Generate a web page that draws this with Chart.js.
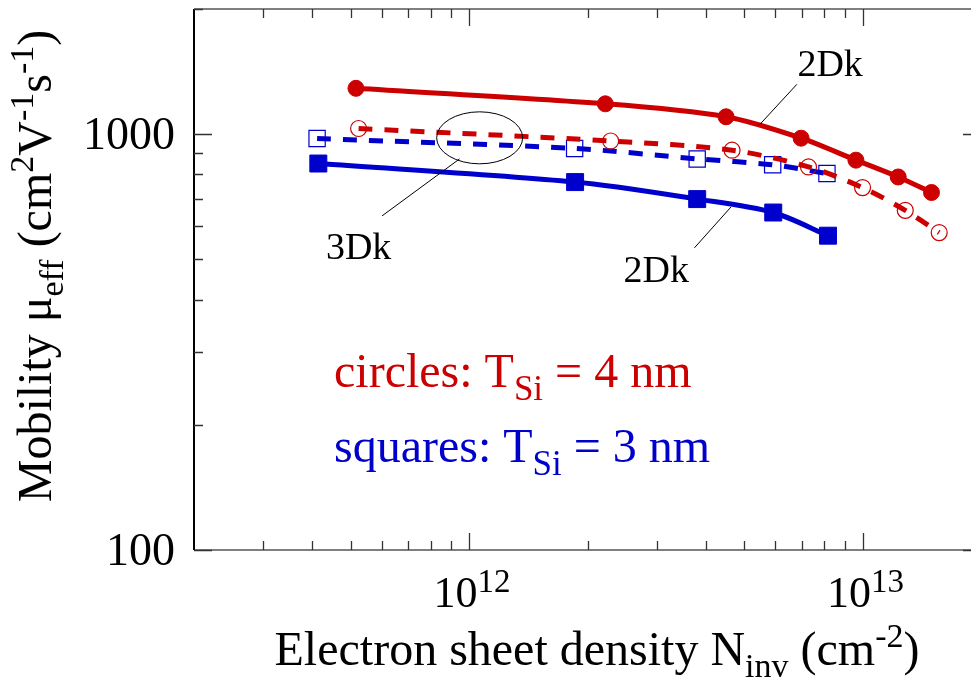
<!DOCTYPE html>
<html>
<head>
<meta charset="utf-8">
<script src="https://cdn.jsdelivr.net/npm/chart.js@4/dist/chart.umd.min.js"></script>
<style>
  html, body { margin: 0; padding: 0; background: #fff; overflow: hidden; }
  #chart { display: block; }
</style>
</head>
<body>
<canvas id="chart" width="990" height="686"></canvas>
<script>
// ---------------- Data ----------------
// circles: T_Si = 4 nm
const nCircles2D = [5.16e11, 2.22e12, 4.50e12, 6.98e12, 9.62e12, 1.232e13, 1.497e13];
const muCircles2D = [1289, 1183, 1101, 978, 866, 789, 724];
const nCircles3D = [5.24e11, 2.29e12, 4.66e12, 7.29e12, 1.0e13, 1.284e13, 1.566e13];
const muCircles3D = [1032, 963, 915, 834, 744, 656, 580];
// squares: T_Si = 3 nm
const nSquares3D = [4.11e11, 1.855e12, 3.80e12, 5.91e12, 8.12e12];
const muSquares3D = [976, 924, 872, 844, 804];
const nSquares2D = [4.14e11, 1.86e12, 3.80e12, 5.93e12, 8.17e12];
const muSquares2D = [850, 767, 698, 648, 570];

// axis ranges + ticks
const xRange = [2e11, 2e13];
const yRange = [100, 2000];
const xMajorTicks = [1e12, 1e13];
const xMinorTicks = [3e11, 4e11, 5e11, 6e11, 7e11, 8e11, 9e11, 2e12, 3e12, 4e12, 5e12, 6e12, 7e12, 8e12, 9e12];
const yMajorTicks = [100, 1000];
const yMinorTicks = [200, 300, 400, 500, 600, 700, 800, 900, 2000];
const xTickExponents = ["12", "13"];

const RED = "#cc0000";
const BLUE = "#0000cc";
const FONT = "'Liberation Serif', 'Times New Roman', serif";

function pts(xs, ys) {
  return xs.map((x, i) => ({ x, y: ys[i] }));
}

// ---------------- Helpers ----------------
// text made of parts [{t, size, dy}], x anchor by align, baseline y
function richWidth(ctx, parts) {
  let w = 0;
  parts.forEach(p => {
    ctx.font = `${p.size}px ${FONT}`;
    w += ctx.measureText(p.t).width;
  });
  return w;
}

function drawRich(ctx, parts, x, y, align) {
  const w = richWidth(ctx, parts);
  let cx = x;
  if (align === "center") cx = x - w / 2;
  if (align === "right") cx = x - w;
  ctx.textAlign = "left";
  ctx.textBaseline = "alphabetic";
  parts.forEach(p => {
    ctx.font = `${p.size}px ${FONT}`;
    ctx.fillText(p.t, cx, y + (p.dy || 0));
    cx += ctx.measureText(p.t).width;
  });
}

// ---------------- Frame, ticks, labels ----------------
const framePlugin = {
  id: "frame",
  beforeDatasetsDraw(chart) {
    const { ctx, chartArea: a, scales } = chart;
    const xs = scales.x, ys = scales.y;
    ctx.save();

    // axes box
    ctx.strokeStyle = "#555";
    ctx.lineWidth = 1.5;
    ctx.beginPath();
    ctx.moveTo(a.left, a.top); ctx.lineTo(a.right, a.top);
    ctx.moveTo(a.left, a.bottom); ctx.lineTo(a.right, a.bottom);
    ctx.moveTo(a.right, a.top); ctx.lineTo(a.right, a.bottom);
    ctx.stroke();
    ctx.strokeStyle = "#000";
    ctx.lineWidth = 2;
    ctx.beginPath();
    ctx.moveTo(a.left, a.top); ctx.lineTo(a.left, a.bottom);
    ctx.stroke();

    // inward ticks
    ctx.strokeStyle = "#333";
    ctx.lineWidth = 1.3;
    ctx.beginPath();
    const xt = (v, len) => {
      const p = Math.round(xs.getPixelForValue(v)) + 0.5;
      ctx.moveTo(p, a.bottom); ctx.lineTo(p, a.bottom - len);
      ctx.moveTo(p, a.top); ctx.lineTo(p, a.top + len);
    };
    const yt = (v, len) => {
      const p = Math.round(ys.getPixelForValue(v)) + 0.5;
      ctx.moveTo(a.left, p); ctx.lineTo(a.left + len, p);
      ctx.moveTo(a.right, p); ctx.lineTo(a.right - len, p);
    };
    xMajorTicks.forEach(v => xt(v, 17));
    xMinorTicks.forEach(v => xt(v, 9));
    yMajorTicks.forEach(v => yt(v, 18));
    yMinorTicks.forEach(v => yt(v, 9));
    ctx.stroke();

    // tick labels
    ctx.fillStyle = "#000";
    yMajorTicks.forEach(v => {
      const p = ys.getPixelForValue(v);
      drawRich(ctx, [{ t: String(v), size: 46 }], 175, p + 15, "right");
    });
    xMajorTicks.forEach((v, i) => {
      const p = xs.getPixelForValue(v);
      drawRich(ctx, [{ t: "10", size: 44 }, { t: xTickExponents[i], size: 33, dy: -15 }], p + 3, 607, "center");
    });

    // axis titles
    drawRich(ctx, [
      { t: "Electron sheet density N", size: 48 },
      { t: "inv", size: 34, dy: 12 },
      { t: " (cm", size: 48 },
      { t: "-2", size: 34, dy: -18 },
      { t: ")", size: 48 },
    ], 597, 665, "center");

    ctx.save();
    ctx.translate(51, 266);
    ctx.rotate(-Math.PI / 2);
    drawRich(ctx, [
      { t: "Mobility \u03bc", size: 48 },
      { t: "eff", size: 34, dy: 12 },
      { t: " (cm", size: 48 },
      { t: "2", size: 34, dy: -18 },
      { t: "V", size: 48 },
      { t: "-1", size: 34, dy: -18 },
      { t: "s", size: 48 },
      { t: "-1", size: 34, dy: -18 },
      { t: ")", size: 48 },
    ], 0, 0, "center");
    ctx.restore();

    ctx.restore();
  },
  afterDatasetsDraw(chart) {
    const { ctx, scales } = chart;
    const X = v => scales.x.getPixelForValue(v);
    const Y = v => scales.y.getPixelForValue(v);
    ctx.save();

    // 3Dk ellipse + leaders
    ctx.strokeStyle = "#000";
    ctx.lineWidth = 1;
    ctx.beginPath();
    ctx.ellipse(X(1.064e12), Y(980), 43, 26, 0, 0, Math.PI * 2);
    ctx.stroke();
    const leader = (x1, y1, x2, y2) => {
      ctx.beginPath();
      ctx.moveTo(X(x1), Y(y1));
      ctx.lineTo(X(x2), Y(y2));
      ctx.stroke();
    };
    leader(9.46e11, 872, 6.01e11, 636);
    leader(6.81e12, 1318, 5.47e12, 1053);
    leader(4.63e12, 668, 3.74e12, 533);

    ctx.fillStyle = "#000";
    drawRich(ctx, [{ t: "3Dk", size: 38 }], X(5.24e11), Y(500), "center");
    drawRich(ctx, [{ t: "2Dk", size: 38 }], X(6.83e12), Y(1380), "left");
    drawRich(ctx, [{ t: "2Dk", size: 38 }], X(2.47e12), Y(440), "left");

    // legend text
    ctx.fillStyle = RED;
    drawRich(ctx, [
      { t: "circles: T", size: 48 },
      { t: "Si", size: 35, dy: 13 },
      { t: " = 4 nm", size: 48 },
    ], 334, 387, "left");
    ctx.fillStyle = BLUE;
    drawRich(ctx, [
      { t: "squares: T", size: 48 },
      { t: "Si", size: 35, dy: 13 },
      { t: " = 3 nm", size: 48 },
    ], 334, 462, "left");

    ctx.restore();
  },
};

// ---------------- Chart ----------------
const ctx = document.getElementById("chart");

new Chart(ctx, {
  type: "line",
  data: {
    datasets: [
      {
        label: "2Dk circles",
        data: pts(nCircles2D, muCircles2D),
        borderColor: RED,
        borderWidth: 5,
        pointStyle: "circle",
        pointRadius: 8,
        pointBackgroundColor: RED,
        pointBorderColor: RED,
        pointBorderWidth: 1,
      },
      {
        label: "3Dk circles",
        data: pts(nCircles3D, muCircles3D),
        borderColor: RED,
        borderWidth: 5,
        borderDash: [14, 12],
        pointStyle: "circle",
        pointRadius: 8,
        pointBackgroundColor: "rgba(0,0,0,0)",
        pointBorderColor: RED,
        pointBorderWidth: 1.2,
      },
      {
        label: "3Dk squares",
        data: pts(nSquares3D, muSquares3D),
        borderColor: BLUE,
        borderWidth: 5,
        borderDash: [14, 12],
        pointStyle: "rect",
        pointRadius: 11.5,
        pointBackgroundColor: "rgba(0,0,0,0)",
        pointBorderColor: BLUE,
        pointBorderWidth: 1.2,
      },
      {
        label: "2Dk squares",
        data: pts(nSquares2D, muSquares2D),
        borderColor: BLUE,
        borderWidth: 5,
        pointStyle: "rect",
        pointRadius: 12,
        pointBackgroundColor: BLUE,
        pointBorderColor: BLUE,
        pointBorderWidth: 1,
      },
    ],
  },
  options: {
    responsive: false,
    devicePixelRatio: 1,
    animation: false,
    layout: { autoPadding: false, padding: { left: 194, top: 9, right: 9, bottom: 136 } },
    elements: { line: { tension: 0.3, fill: false } },
    scales: {
      x: { type: "logarithmic", min: xRange[0], max: xRange[1], display: false },
      y: { type: "logarithmic", min: yRange[0], max: yRange[1], display: false },
    },
    plugins: { legend: { display: false }, tooltip: { enabled: false } },
  },
  plugins: [framePlugin],
});
</script>
</body>
</html>
